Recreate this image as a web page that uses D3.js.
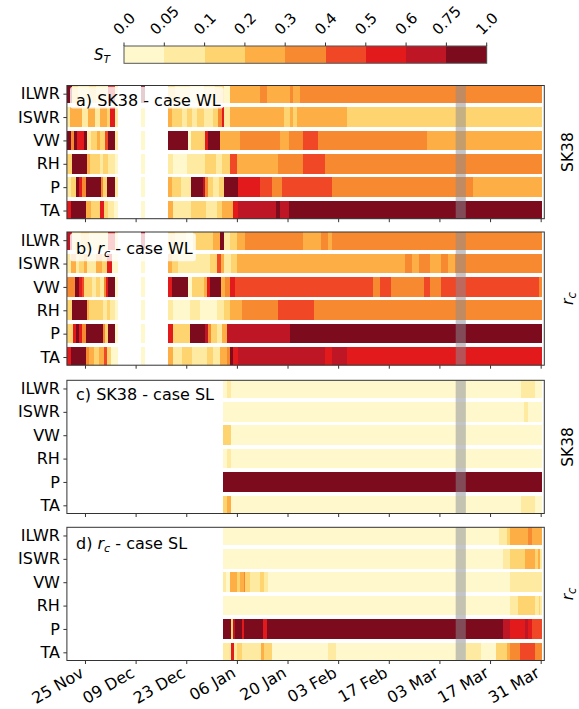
<!DOCTYPE html>
<html><head><meta charset="utf-8">
<script src="https://cdn.jsdelivr.net/npm/d3@7"></script>
<style>body{margin:0;background:#fff}svg{display:block}text{font-family:"DejaVu Sans",sans-serif;fill:#000}</style>
</head><body><svg id="c" width="579" height="709"></svg>
<script>
// ---------------- data ----------------
const variables = ["ILWR","ISWR","VW","RH","P","TA"];
const bounds = [0,0.05,0.1,0.2,0.3,0.4,0.5,0.6,0.75,1.0];
const boundLabels = ["0.0","0.05","0.1","0.2","0.3","0.4","0.5","0.6","0.75","1.0"];
const binColors = ["#fff8cd","#feeaa0","#fed471","#fdae45","#f78a30","#f04726","#e31a1c","#be1624","#7b0b1d"];
const startDate = "2018-11-20";
const endDate = "2019-04-01";
const dataEndDay = 131.5;
const tickDates = ["2018-11-25","2018-12-09","2018-12-23","2019-01-06","2019-01-20","2019-02-03","2019-02-17","2019-03-03","2019-03-17","2019-03-31"];
const bandDays = [107.5, 110.3];

// segments: [start day after startDate, S_T] (null = no data)
const a_ILWR = [[0,0.85],[1.3,0.15],[3,0.07],[6,0.15],[8,0.07],[11.5,0.55],[13.3,0.07],[14.2,null],[20.4,0.85],[21.6,null],[28,0.15],[30,0.07],[34,0.02],[38,0.07],[41,0.15],[43.3,0.02],[45.1,0.25],[53.4,0.35],[55.3,0.25],[61.7,0.35],[62.6,0.25],[64.5,0.35]];
const a_ISWR = [[0,0.07],[0.8,0.25],[4.1,0.07],[5.9,0.25],[7.8,0.07],[9.2,0.25],[11,0.15],[12,0.55],[13.3,0.07],[14.2,null],[20.4,0.02],[21.6,null],[28,0.25],[29,0.15],[31.7,0.07],[33.1,0.15],[34.5,0.07],[35.9,0.15],[37.8,0.07],[40.5,0.15],[41.9,0.35],[42.8,0.55],[43.3,0.07],[45.1,0.25],[59.9,0.15],[61.7,0.25],[62.6,0.15],[63.5,0.25],[77.4,0.15]];
const a_VW = [[0,0.85],[1.1,0.35],[2,0.85],[2.9,0.55],[4.6,0.85],[5.6,0.07],[6.8,0.15],[8.2,0.25],[9.2,0.15],[10.6,0.45],[11.5,0.85],[13.3,0.07],[14.2,null],[20.4,0.02],[21.6,null],[28,0.85],[33.4,0.02],[34.2,0.15],[38.2,0.55],[39.1,0.85],[42.3,0.25],[47.9,0.35],[58.9,0.25],[61.5,0.35],[65.4,0.45],[69.3,0.35],[99.5,0.25]];
const a_RH = [[0,0.15],[1.3,0.85],[5.5,0.25],[6.4,0.15],[9.2,0.07],[10.1,0.15],[11.5,0.07],[13.3,0.02],[14.2,null],[20.4,0.02],[21.6,null],[28,0.07],[29.4,0.02],[33.1,0.07],[38.2,0.15],[41.1,0.07],[42.9,0.15],[45.1,0.45],[47.1,0.25],[58.4,0.35],[65.4,0.45],[71.4,0.35]];
const a_P = [[0,0.07],[1.1,0.15],[2.4,0.85],[3.3,0.55],[4.3,0.35],[5.2,0.85],[9.3,0.35],[10.1,0.15],[11.2,0.85],[13.2,0.07],[14.2,null],[20.4,0.02],[21.6,null],[28,0.25],[29,0.15],[31.5,0.07],[34.3,0.85],[37.5,0.68],[38.3,0.35],[39.1,0.15],[40.3,0.07],[42,0.15],[43.3,0.85],[47.3,0.55],[53.4,0.45],[56.6,0.35],[59.4,0.45],[73.4,0.35],[112.4,0.25]];
const a_TA = [[0,0.55],[1.1,0.85],[5.4,0.25],[6.8,0.15],[9.2,0.55],[10.2,0.15],[11.5,0.07],[12.9,0.02],[14.2,null],[20.4,0.02],[21.6,null],[28,0.25],[29.2,0.07],[34.2,0.15],[38.5,0.07],[41.5,0.15],[42.8,0.25],[45.9,0.55],[47.4,0.68],[57.9,0.85],[58.8,0.68],[61.5,0.85]];

const b_ILWR = [[0,0.68],[1.3,0.07],[4,0.15],[6,0.07],[11.5,0.55],[13.3,0.07],[14.2,null],[20.4,0.68],[21.6,null],[28,0.15],[30,0.07],[33,0.02],[35,0.15],[40.5,0.25],[42.4,0.85],[43.3,0.07],[45.1,0.15],[47,0.25],[49.3,0.35],[65.4,0.25],[70.2,0.35],[72.3,0.25],[73.2,0.35]];
const b_ISWR = [[0,0.07],[1,0.25],[2.4,0.07],[3.3,0.15],[4.7,0.25],[5.6,0.07],[8,0.25],[9.8,0.15],[11.2,0.55],[12.6,0.02],[14.2,null],[20.4,0.02],[21.6,null],[28,0.25],[29,0.15],[30.8,0.07],[39.7,0.15],[41.6,0.45],[42.5,0.25],[43.4,0.07],[45.3,0.15],[47.1,0.25],[93.5,0.35],[95.3,0.25],[97.4,0.35],[100.4,0.25],[103.4,0.35],[105.5,0.25],[107.3,0.35]];
const b_VW = [[0,0.35],[2.2,0.85],[3.4,0.55],[4.1,0.45],[4.8,0.15],[7,0.07],[8,0.15],[9.2,0.07],[10.3,0.35],[10.8,0.55],[11.5,0.85],[13.3,0.02],[14.2,null],[20.4,0.02],[21.6,null],[28,0.55],[29,0.85],[33.6,0.02],[34.5,0.15],[38,0.25],[38.7,0.55],[39.5,0.85],[42.6,0.25],[43.6,0.35],[45,0.55],[46.5,0.45],[84.5,0.35],[86.6,0.45],[89.5,0.35],[98.6,0.45],[100.4,0.35],[103.4,0.45],[130.4,0.35]];
const b_RH = [[0,0.15],[1.3,0.85],[5.5,0.25],[6.2,0.15],[10.1,0.07],[11,0.15],[12,0.07],[13.3,0.02],[14.2,null],[20.4,0.02],[21.6,null],[28,0.07],[29.4,0.02],[34,0.07],[36.8,0.02],[41.5,0.07],[43.3,0.15],[45.1,0.25],[48.3,0.35],[58.5,0.45],[68.4,0.35]];
const b_P = [[0,0.15],[1.6,0.55],[2.4,0.85],[3.3,0.55],[4.3,0.35],[5.2,0.85],[9.9,0.35],[10.5,0.15],[11.3,0.85],[13.3,0.02],[14.2,null],[20.4,0.02],[21.6,null],[28,0.55],[29.2,0.15],[34,0.85],[38.2,0.68],[39,0.35],[39.9,0.15],[41.4,0.07],[42.8,0.25],[44.2,0.68],[61.6,0.85]];
const b_TA = [[0,0.55],[1.1,0.85],[5.3,0.35],[6.2,0.25],[7.6,0.15],[8.9,0.25],[10.3,0.45],[11,0.15],[12.1,0.02],[14.2,null],[20.4,0.02],[21.6,null],[28,0.25],[29.3,0.07],[31.7,0.15],[34.5,0.07],[38.7,0.15],[40.5,0.07],[42.3,0.25],[44.2,0.35],[45.1,0.85],[46,0.55],[47.4,0.68],[71.4,0.55],[73.4,0.68],[77.4,0.55]];

const c_ILWR = [[0,null],[43.1,0.02],[44.2,0.07],[45.3,0.02],[125.5,0.07],[129.3,0.02]];
const c_ISWR = [[0,null],[43.1,0.02],[126.4,0.07],[127.4,0.02]];
const c_VW = [[0,null],[43.1,0.15],[45.3,0.02]];
const c_RH = [[0,null],[43.1,0.02],[44.2,0.07],[45.3,0.02]];
const c_P = [[0,null],[43.1,0.85]];
const c_TA = [[0,null],[43.1,0.15],[44.2,0.25],[45.3,0.02],[125.5,0.07],[129.3,0.02]];

const d_ILWR = [[0,null],[43.1,0.02],[119.6,0.07],[121.6,0.15],[122.5,0.25],[127.6,0.35],[128.5,0.25]];
const d_ISWR = [[0,null],[43.1,0.02],[120.5,0.07],[122.5,0.15],[126.7,0.25],[129.4,0.15],[130.3,0.25],[130.9,0.07]];
const d_VW = [[0,null],[43.1,0.07],[44,0.02],[45.1,0.25],[47.1,0.15],[47.9,0.25],[48.9,0.35],[49.3,0.15],[50.7,0.07],[53.4,0.15],[54.6,0.07],[55.5,0.02],[122.5,0.07]];
const d_RH = [[0,null],[43.1,0.02],[122.5,0.07],[124.6,0.15],[129.4,0.07],[130.4,0.15],[130.9,0.07]];
const d_P = [[0,null],[43.1,0.85],[45.3,0.15],[46,0.68],[46.4,0.85],[48.3,0.55],[49.1,0.85],[54.3,0.55],[55.2,0.85],[120.5,0.68],[122.5,0.55],[126.7,0.68],[127.6,0.55],[128.5,0.45]];
const d_TA = [[0,null],[43.1,0.07],[45.3,0.55],[46.1,0.07],[47.1,0.15],[48.3,0.07],[53.7,0.25],[54.6,0.15],[56.6,0.02],[72.3,0.07],[74.4,0.02],[110.3,0.07],[114.5,0.02],[118.6,0.15],[121.6,0.25],[122.5,0.35],[125.4,0.45],[129.4,0.35]];

const panelLetters = ["a","b","c","d"];
const panelModels = ["SK38","rc","SK38","rc"];
const panelCases = ["WL","WL","SL","SL"];
const panelRows = [
  [a_ILWR,a_ISWR,a_VW,a_RH,a_P,a_TA],
  [b_ILWR,b_ISWR,b_VW,b_RH,b_P,b_TA],
  [c_ILWR,c_ISWR,c_VW,c_RH,c_P,c_TA],
  [d_ILWR,d_ISWR,d_VW,d_RH,d_P,d_TA]
];

// ---------------- layout ----------------
const svg = d3.select("#c");
const X0 = 66.9, X1 = 544.3;
const panelTops = [85.5, 232, 380.3, 527.3];
const PH = 133.2;
const FS = 16;
const t0 = d3.isoParse(startDate);
const dayToDate = d => new Date(+t0 + d * 864e5);
const x = d3.scaleUtc().domain([t0, d3.isoParse(endDate)]).range([X0, X1]);
const y = d3.scaleLinear().domain([-0.35, 5.35]).range([0, PH]);
const color = d3.scaleThreshold().domain(bounds.slice(1, -1)).range(binColors);
const axisCol = "#333";

function addModel(sel, model, size, big) {
  if (model === "rc") {
    sel.append("tspan").attr("font-style", "italic").text("r");
    sel.append("tspan").attr("font-style", "italic").attr("font-size", size * 0.7).attr("dy", big ? 3.5 : 3).text("c");
    return true;
  }
  sel.append("tspan").text(model);
  return false;
}

panelRows.forEach((rows, i) => {
  const top = panelTops[i];
  const g = svg.append("g").attr("transform", `translate(0,${top})`);
  const cid = "clip" + i;
  g.append("clipPath").attr("id", cid).append("rect")
    .attr("x", X0).attr("y", 0).attr("width", X1 - X0).attr("height", PH);
  const body = g.append("g").attr("clip-path", `url(#${cid})`);
  rows.forEach((segs, r) => {
    const items = segs.map((s, k) => ({start: s[0], end: k < segs.length - 1 ? segs[k + 1][0] : dataEndDay, v: s[1]}))
      .filter(d => d.v !== null);
    body.selectAll(null).data(items).join("rect")
      .attr("x", d => x(dayToDate(d.start)))
      .attr("width", d => x(dayToDate(d.end)) - x(dayToDate(d.start)))
      .attr("y", y(r - 0.42)).attr("height", y(r + 0.42) - y(r - 0.42))
      .attr("fill", d => color(d.v))
      .attr("shape-rendering", "crispEdges");
  });
  // highlighted period
  body.append("rect")
    .attr("x", x(dayToDate(bandDays[0])))
    .attr("width", x(dayToDate(bandDays[1])) - x(dayToDate(bandDays[0])))
    .attr("y", 0).attr("height", PH)
    .attr("fill", "#8a8b94").attr("opacity", 0.5);

  // panel label with translucent box
  const box = g.append("rect").attr("fill", "#fff").attr("opacity", 0.8).attr("rx", 3);
  const isRc = panelModels[i] === "rc";
  const lab = g.append("text").attr("x", 76).attr("y", isRc ? 21.5 : 20).attr("font-size", 16);
  lab.append("tspan").text(panelLetters[i] + ") ");
  const sub = addModel(lab, panelModels[i], 16, true);
  lab.append("tspan").attr("dy", sub ? -3.5 : 0).text(" - case " + panelCases[i]);
  const bb = lab.node().getBBox();
  box.attr("x", bb.x - 6).attr("width", bb.width + 9)
     .attr("y", 1.3).attr("height", isRc ? 28 : 21.6);

  // frame
  g.append("rect").attr("x", X0).attr("y", 0).attr("width", X1 - X0).attr("height", PH)
    .attr("fill", "none").attr("stroke", axisCol).attr("stroke-width", 1);

  // y axis
  const ya = g.append("g").attr("transform", `translate(${X0},0)`)
    .call(d3.axisLeft(y).tickValues(d3.range(variables.length)).tickFormat(k => variables[k]).tickSize(3.5).tickPadding(3.5));
  ya.select(".domain").remove();
  ya.selectAll("line").attr("stroke", axisCol);
  ya.selectAll("text").attr("font-size", FS).attr("font-family", "DejaVu Sans").attr("fill", "#000");

  // x axis
  const last = i === panelRows.length - 1;
  const xa = g.append("g").attr("transform", `translate(0,${PH})`)
    .call(d3.axisBottom(x).tickValues(tickDates.map(d3.isoParse))
      .tickFormat(last ? d3.utcFormat("%d %b") : () => "").tickSize(3.5));
  xa.select(".domain").remove();
  xa.selectAll("line").attr("stroke", axisCol);
  xa.selectAll("text").attr("font-size", FS).attr("font-family", "DejaVu Sans").attr("fill", "#000")
    .attr("x", null).attr("dy", null).attr("y", null)
    .attr("text-anchor", "end")
    .attr("transform", "translate(-0.5,15.5) rotate(-30)");

  // side label
  const side = g.append("text").attr("font-size", 15.5)
    .attr("text-anchor", "middle")
    .attr("transform", `translate(573,${PH / 2}) rotate(-90)`);
  addModel(side, panelModels[i], 16.5, false);
});

// ---------------- colorbar ----------------
const cbL = 124, cbR = 486.7, cbT = 46, cbB = 63.3;
const cbx = d3.scaleLinear().domain([0, binColors.length]).range([cbL, cbR]);
const cb = svg.append("g");
cb.selectAll(null).data(binColors).join("rect")
  .attr("x", (c, k) => cbx(k)).attr("width", (c, k) => cbx(k + 1) - cbx(k))
  .attr("y", cbT).attr("height", cbB - cbT).attr("fill", c => c)
  .attr("shape-rendering", "crispEdges");
cb.append("rect").attr("x", cbL).attr("y", cbT).attr("width", cbR - cbL).attr("height", cbB - cbT)
  .attr("fill", "none").attr("stroke", "#555").attr("stroke-width", 1);
cb.selectAll(null).data(boundLabels).join("line")
  .attr("x1", (t, k) => cbx(k)).attr("x2", (t, k) => cbx(k))
  .attr("y1", cbT - 3.5).attr("y2", cbT).attr("stroke", axisCol);
const CFS = 15;
const digitH = CFS * 0.73;
cb.selectAll(null).data(boundLabels).join("text")
  .attr("font-size", CFS).attr("text-anchor", "start")
  .text(t => t)
  .each(function(t, k) {
    const L = this.getComputedTextLength();
    const px = cbx(k) - (L - digitH) / (2 * Math.SQRT2);
    d3.select(this).attr("transform", `translate(${px},35.8) rotate(-45)`);
  });
const st = cb.append("text").attr("x", 94).attr("y", 60).attr("font-size", 15);
st.append("tspan").attr("font-style", "italic").text("S");
st.append("tspan").attr("font-style", "italic").attr("font-size", 10.5).attr("dy", 2.5).text("T");
</script></body></html>
